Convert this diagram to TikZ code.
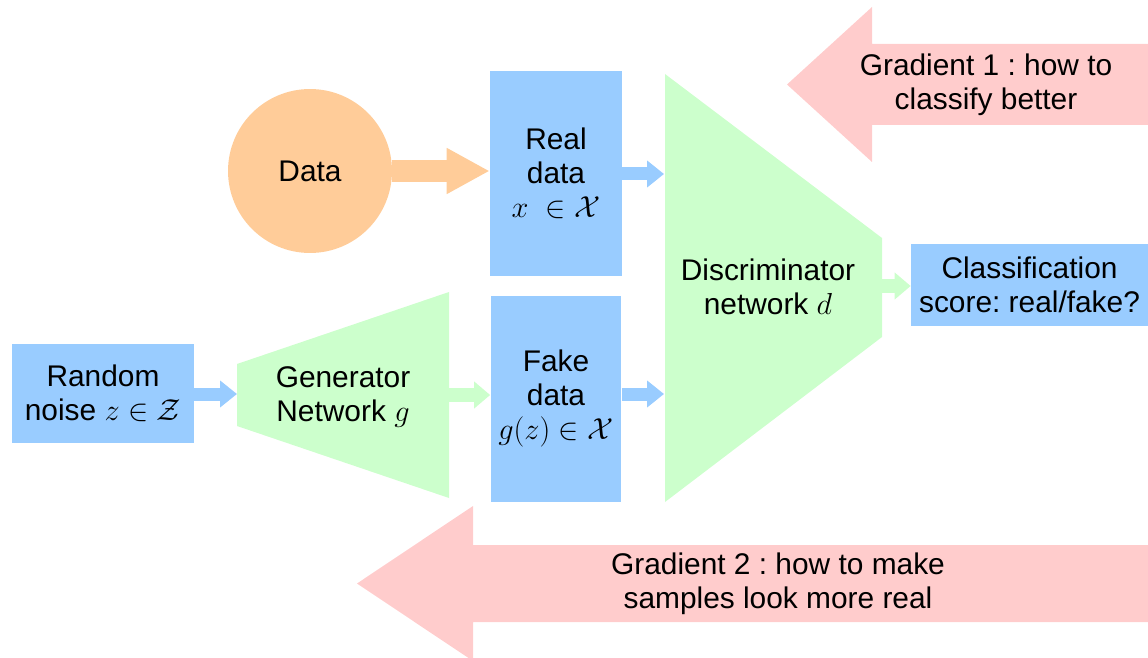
\documentclass[tikz,border=0pt]{standalone}
\usepackage{fontspec}
\setmainfont{Liberation Sans}
\usetikzlibrary{arrows.meta, positioning, calc}
\frenchspacing

\definecolor{boxblue}{HTML}{99CCFF}
\definecolor{netgreen}{HTML}{CCFFCC}
\definecolor{dataorange}{HTML}{FFCC99}
\definecolor{gradpink}{HTML}{FFCCCC}

\begin{document}
\begin{tikzpicture}[x=0.02cm, y=-0.02cm,
    font=\fontsize{17}{19.3}\selectfont,
    box/.style={fill=boxblue, align=center, inner sep=0pt},
    txt/.style={align=center, inner sep=0pt},
    datafeed/.style={draw=dataorange, line width=0.44cm, -{Triangle[length=0.86cm, width=0.86cm]}},
    bluefeed/.style={draw=boxblue, line width=0.26cm, -{Triangle[length=0.34cm, width=0.52cm]}},
    greenfeed/.style={draw=netgreen, line width=0.28cm, -{Triangle[length=0.32cm, width=0.52cm]}}]

    \useasboundingbox (0,0) rectangle (1148,658);

    % -------------------------------------------------------------
    % Gradient arrows (feedback)
    % -------------------------------------------------------------
    \fill[gradpink] (787,84.5) -- (872,7) -- (872,44) -- (1148,44) -- (1148,125)
        -- (872,125) -- (872,162) -- cycle;
    \fill[gradpink] (357,583.5) -- (473,506) -- (473,545) -- (1148,545) -- (1148,622)
        -- (473,622) -- (473,661) -- cycle;
    \node (grad1) [txt] at (986,84.5) {Gradient 1 : how to\\classify better};
    \node (grad2) [txt] at (778,583.5) {Gradient 2 : how to make\\samples look more real};

    % -------------------------------------------------------------
    % Networks
    % -------------------------------------------------------------
    \fill[netgreen] (237,364) -- (449,292) -- (449,498) -- (237,426) -- cycle;
    \fill[netgreen] (665,74) -- (882,238) -- (882,337) -- (665,502) -- cycle;
    \node (gen) [txt] at (343,397) {Generator\\Network $g$};
    \node (disc) [txt] at (768,286.5) {Discriminator\\network $d$};

    \coordinate (genL) at (237,394);
    \coordinate (genR) at (449,395);
    \coordinate (discTop) at (664,174);
    \coordinate (discLow) at (664,394);
    \coordinate (discR) at (882,286);

    % -------------------------------------------------------------
    % Data and samples
    % -------------------------------------------------------------
    \node (data) [circle, fill=dataorange, minimum size=3.28cm, inner sep=0pt] at (310,171) {Data};
    \node (real) [box, minimum width=2.64cm, minimum height=4.1cm] at (556,173.5)
        {Real\\data\\$x \;\in \mathcal{X}$};
    \node (fake) [box, minimum width=2.62cm, minimum height=4.12cm, below=0.38cm of real]
        {Fake\\data\\$g(z) \in \mathcal{X}$};
    \node (noise) [box, minimum width=3.64cm, minimum height=1.98cm] at (103,393.5)
        {Random\\noise $z \in \mathcal{Z}$};
    \node (class) [box, minimum width=4.74cm, minimum height=1.64cm] at (1029.5,285)
        {Classification\\score: real/fake?};

    % -------------------------------------------------------------
    % Forward flow
    % -------------------------------------------------------------
    \draw[datafeed] (data.east) -- (data.east -| real.west);
    \draw[bluefeed] (real.east |- discTop) -- (discTop);
    \draw[bluefeed] (fake.east |- discLow) -- (discLow);
    \draw[bluefeed] (noise.east |- genL) -- (genL);
    \draw[greenfeed] (genR) -- (genR -| fake.west);
    \draw[greenfeed] (discR) -- (discR -| class.west);

\end{tikzpicture}
\end{document}
